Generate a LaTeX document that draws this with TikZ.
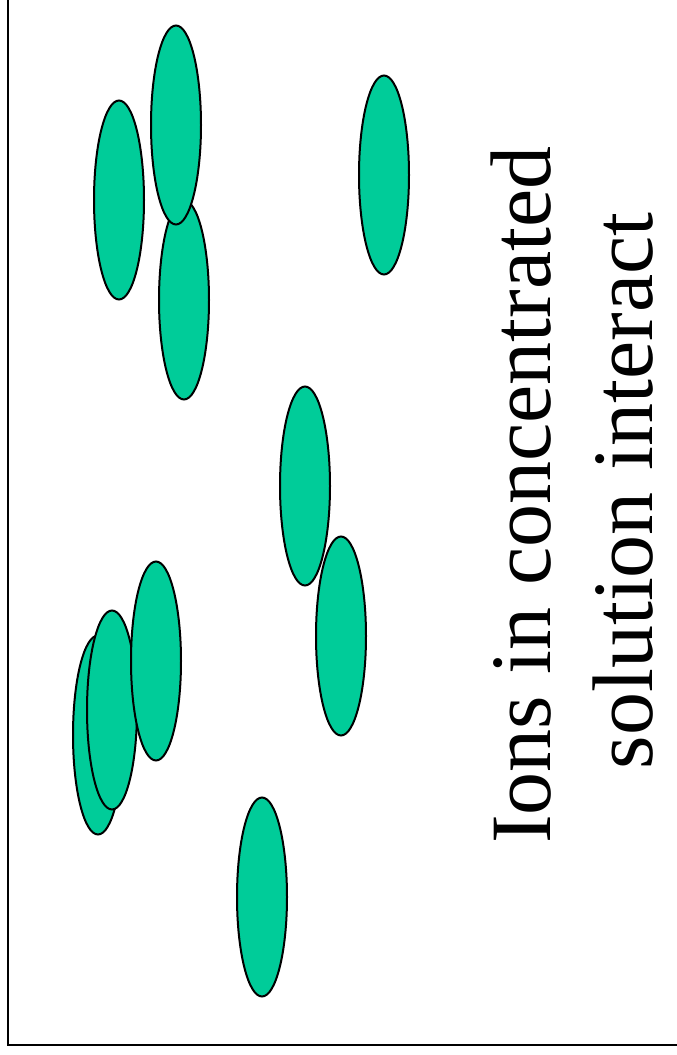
\documentclass[tikz,border=0pt]{standalone}
\usepackage{fontspec}
\setmainfont{Liberation Serif}
\newfontfamily\capfont{Liberation Serif}
\usetikzlibrary{shapes.geometric}
\definecolor{iongreen}{HTML}{00CC99}
\tikzset{
  ion/.style={ellipse, draw=black, line width=2pt, fill=iongreen, minimum width=50pt, minimum height=199pt, inner sep=0pt},
  caption/.style={rotate=90, anchor=base, inner sep=0pt, font=\capfont\fontsize{86}{102}\selectfont},
  frameline/.style={line width=2pt, draw=black}
}
\begin{document}
\begin{tikzpicture}[x=1pt,y=-1pt]
\useasboundingbox (0,0) rectangle (677,1055);
\coordinate (ftop) at (8,0);
\coordinate (fcorner) at (8,1045);
\coordinate (fright) at (677,1045);
\draw[frameline] (ftop) -- (fcorner) -- (fright);
\node[ion] (a1) at (119,200) {};
\node[ion] (a2) at (184,300) {};
\node[ion] (a3) at (176,125) {};
\node[ion] (a4) at (384,175) {};
\node[ion] (b1) at (305,486) {};
\node[ion] (b2) at (341,636) {};
\node[ion] (c1) at (98,735) {};
\node[ion] (c2) at (112,710) {};
\node[ion] (c3) at (156,661) {};
\node[ion] (d1) at (262,897) {};
\node[caption] (t1) at (550,495) {Ions in concentrated};
\node[caption] (t2) at (652,491) {solution interact};
\end{tikzpicture}
\end{document}
